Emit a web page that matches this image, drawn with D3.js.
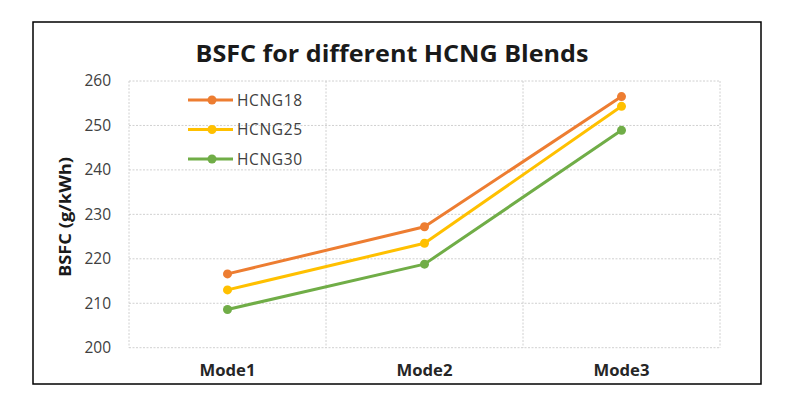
<!DOCTYPE html>
<html><head><meta charset="utf-8">
<script src="https://cdn.jsdelivr.net/npm/d3@7"></script>
<style>body{margin:0;background:#fff}svg{display:block}</style>
</head><body><svg id="c" width="788" height="402"></svg>
<script>
const categories = ["Mode1","Mode2","Mode3"];
const seriesNames = ["HCNG18","HCNG25","HCNG30"];
const hcng18 = [216.6, 227.2, 256.5];
const hcng25 = [213.0, 223.5, 254.3];
const hcng30 = [208.6, 218.8, 248.9];
const yTicks = [200,210,220,230,240,250,260];
const colors = ["#ED7D31","#FFC000","#70AD47"];
const seriesValues = [hcng18, hcng25, hcng30];

const svg = d3.select("#c");
const font = "'Open Sans', 'Liberation Sans', sans-serif";
const L=129, R=720, T=81, B=347.7;
svg.append("rect").attr("x",33).attr("y",22).attr("width",728).attr("height",362)
  .attr("fill","#fff").attr("stroke","#000").attr("stroke-width",1.5);

const x = d3.scaleBand().domain(categories).range([L,R]);
const y = d3.scaleLinear().domain([200,260]).range([B,T]);

const g = svg.append("g");
g.selectAll(".hg").data(yTicks).join("line")
  .attr("x1",L).attr("x2",R).attr("y1",d=>y(d)).attr("y2",d=>y(d))
  .attr("stroke","#d0d0d0").attr("stroke-dasharray","2,1.5").attr("stroke-width",1);
const edges = categories.map(c=>x(c)).concat([R]);
g.selectAll(".vg").data(edges).join("line")
  .attr("x1",d=>d).attr("x2",d=>d).attr("y1",T).attr("y2",B)
  .attr("stroke","#d0d0d0").attr("stroke-dasharray","2,1.5").attr("stroke-width",1);

const yAxis = d3.axisLeft(y).tickValues(yTicks).tickSize(0).tickPadding(0);
const ya = svg.append("g").attr("transform",`translate(111,0)`).call(yAxis);
ya.select(".domain").remove();
ya.selectAll("text").attr("font-family",font).attr("font-size",15.5).attr("fill","#404040");

const xAxis = d3.axisBottom(x).tickSize(0).tickPadding(0);
const xa = svg.append("g").attr("transform",`translate(0,365)`).call(xAxis);
xa.select(".domain").remove();
xa.selectAll("text").attr("font-family",font).attr("font-size",16).attr("font-weight","bold")
  .attr("fill","#262626").attr("dy","0.7em").attr("textLength",56).attr("lengthAdjust","spacingAndGlyphs");

svg.append("text").attr("x",392).attr("y",62).attr("text-anchor","middle")
  .attr("font-family",font).attr("font-weight","bold").attr("font-size",23.5).attr("fill","#1a1a1a")
  .attr("textLength",393).attr("lengthAdjust","spacingAndGlyphs")
  .text("BSFC for different HCNG Blends");

svg.append("text").attr("transform","translate(71,217) rotate(-90)").attr("text-anchor","middle")
  .attr("font-family",font).attr("font-weight","bold").attr("font-size",16.5).attr("fill","#1a1a1a")
  .attr("textLength",120).attr("lengthAdjust","spacingAndGlyphs")
  .text("BSFC (g/kWh)");

const line = d3.line().x((d,i)=>x(categories[i])+x.bandwidth()/2).y(d=>y(d));
seriesValues.forEach((vals,si)=>{
  svg.append("path").datum(vals).attr("d",line).attr("fill","none")
    .attr("stroke",colors[si]).attr("stroke-width",3).attr("stroke-linejoin","round");
  svg.selectAll(null).data(vals).join("circle")
    .attr("cx",(d,i)=>x(categories[i])+x.bandwidth()/2).attr("cy",d=>y(d)).attr("r",4.5)
    .attr("fill",colors[si]);
});

const leg = svg.append("g");
seriesNames.forEach((n,i)=>{
  const ly = 100 + i*29.5;
  leg.append("line").attr("x1",188).attr("x2",233).attr("y1",ly).attr("y2",ly)
    .attr("stroke",colors[i]).attr("stroke-width",3);
  leg.append("circle").attr("cx",212).attr("cy",ly).attr("r",4.5).attr("fill",colors[i]);
  leg.append("text").attr("x",237).attr("y",ly).attr("dy","0.36em")
    .attr("font-family",font).attr("font-size",15.5).attr("fill","#404040")
    .attr("textLength",65).attr("lengthAdjust","spacing").text(n);
});
</script></body></html>
